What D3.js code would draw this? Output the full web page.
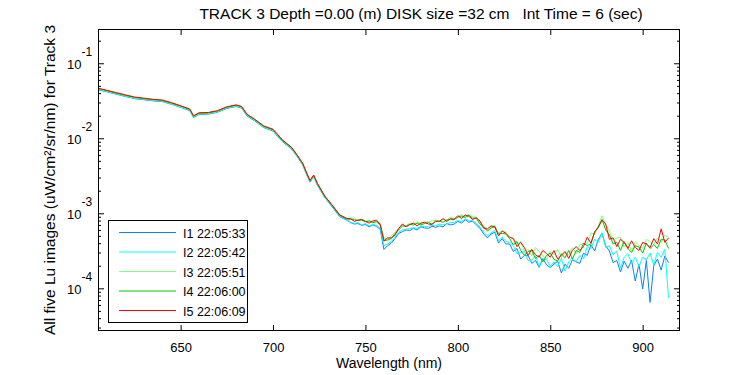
<!DOCTYPE html>
<html>
<head>
<meta charset="utf-8">
<script src="https://cdn.jsdelivr.net/npm/d3@7"></script>
<style>
body { margin: 0; background: #fff; }
svg text { font-family: "Liberation Sans", Arial, Helvetica, sans-serif; fill: #000; }
.tick line { stroke: #000; }
</style>
</head>
<body>
<svg class="lu-chart"></svg>
<script>
// wavelength grid (nm)
const wavelength = [
	605,610,615,620,625,630,635,640,645,650,
	655,657,660,665,670,675,680,683,686,690,
	695,700,705,710,713,716,718,720,722,724,
	728,732,736,740,
	742,744,746,748,750,752,754,756,758,760,
	762,764,766,768,770,772,774,776,778,780,
	782,784,786,788,790,792,794,796,798,800,
	802,804,806,808,810,812,814,816,818,820,
	822,824,826,828,830,832,834,836,838,840,
	842,844,846,848,850,852,854,856,858,860,
	862,864,866,868,870,872,874,876,878,880,
	882,884,886,888,890,892,894,896,898,900,
	902,904,906,908,910,912,914
];

// I1 22:05:33
const lu1 = [
	4.46e-2,4.18e-2,3.88e-2,3.62e-2,3.38e-2,3.27e-2,3.16e-2,3.09e-2,2.85e-2,2.59e-2,
	2.33e-2,1.89e-2,2.08e-2,2.10e-2,2.23e-2,2.50e-2,2.66e-2,2.53e-2,1.98e-2,1.71e-2,
	1.39e-2,1.25e-2,9.07e-3,7.21e-3,5.73e-3,4.45e-3,3.37e-3,2.61e-3,3.08e-3,2.38e-3,
	1.62e-3,1.22e-3,9.07e-4,8.08e-4,
	7.5e-4,7.2e-4,7.3e-4,6.9e-4,7.1e-4,6.6e-4,7.0e-4,6.7e-4,6.1e-4,3.3e-4,
	3.7e-4,4.0e-4,4.6e-4,5.4e-4,5.7e-4,6.0e-4,5.9e-4,6.3e-4,6.0e-4,6.6e-4,
	6.4e-4,6.3e-4,6.7e-4,6.5e-4,6.8e-4,6.6e-4,7.3e-4,7.0e-4,7.2e-4,7.8e-4,
	7.4e-4,8.2e-4,7.6e-4,7.9e-4,7.0e-4,6.3e-4,5.3e-4,4.7e-4,5.3e-4,5.6e-4,
	4.0e-4,4.6e-4,3.9e-4,3.9e-4,3.1e-4,3.4e-4,2.45e-4,2.75e-4,2.75e-4,2.15e-4,
	2.35e-4,1.9e-4,2.5e-4,2.05e-4,1.9e-4,2.1e-4,2.3e-4,1.6e-4,2.1e-4,1.85e-4,
	2.4e-4,2.25e-4,2.15e-4,2.95e-4,2.75e-4,3.8e-4,3.15e-4,4.5e-4,5.4e-4,3.7e-4,
	3.15e-4,2.2e-4,2.35e-4,1.65e-4,2.3e-4,1.85e-4,2.35e-4,1.25e-4,2.1e-4,9.8e-5,
	2.35e-4,6.5e-5,2.0e-4,2.45e-4,1.75e-4,2.7e-4,2.2e-4
];

// I2 22:05:42
const lu2 = [
	4.50e-2,4.22e-2,3.90e-2,3.64e-2,3.41e-2,3.30e-2,3.18e-2,3.11e-2,2.87e-2,2.61e-2,
	2.35e-2,1.91e-2,2.10e-2,2.12e-2,2.25e-2,2.53e-2,2.68e-2,2.55e-2,2.00e-2,1.73e-2,
	1.40e-2,1.27e-2,9.17e-3,7.29e-3,5.79e-3,4.49e-3,3.41e-3,2.64e-3,3.11e-3,2.41e-3,
	1.63e-3,1.24e-3,9.17e-4,8.17e-4,
	7.6e-4,7.3e-4,7.5e-4,7.0e-4,7.3e-4,6.8e-4,7.1e-4,6.9e-4,6.3e-4,3.7e-4,
	3.9e-4,4.2e-4,4.8e-4,5.6e-4,6.0e-4,6.1e-4,6.3e-4,6.4e-4,6.3e-4,6.8e-4,
	6.6e-4,6.7e-4,6.9e-4,6.8e-4,7.2e-4,7.0e-4,7.3e-4,7.5e-4,7.6e-4,8.0e-4,
	7.7e-4,8.4e-4,7.9e-4,8.1e-4,7.3e-4,6.6e-4,5.6e-4,5.0e-4,5.5e-4,5.9e-4,
	4.3e-4,4.8e-4,4.2e-4,4.1e-4,3.7e-4,2.9e-4,3.0e-4,3.15e-4,2.35e-4,2.35e-4,
	2.7e-4,1.95e-4,2.4e-4,2.45e-4,1.95e-4,2.25e-4,1.95e-4,2.5e-4,1.7e-4,2.25e-4,
	2.55e-4,2.25e-4,2.75e-4,2.45e-4,3.6e-4,3.4e-4,4.5e-4,4.1e-4,5.5e-4,3.5e-4,
	3.7e-4,2.8e-4,3.15e-4,1.85e-4,2.6e-4,2.9e-4,2.15e-4,2.6e-4,1.95e-4,2.6e-4,
	2.4e-4,2.95e-4,2.05e-4,3.0e-4,2.6e-4,3.3e-4,7.5e-5
];

// I3 22:05:51
const lu3 = [
	4.58e-2,4.30e-2,3.99e-2,3.72e-2,3.48e-2,3.36e-2,3.25e-2,3.17e-2,2.93e-2,2.67e-2,
	2.40e-2,1.96e-2,2.14e-2,2.17e-2,2.29e-2,2.58e-2,2.73e-2,2.61e-2,2.05e-2,1.76e-2,
	1.43e-2,1.29e-2,9.36e-3,7.44e-3,5.91e-3,4.59e-3,3.48e-3,2.70e-3,3.18e-3,2.46e-3,
	1.67e-3,1.28e-3,9.60e-4,8.60e-4,
	8.7e-4,8.4e-4,8.2e-4,8.3e-4,7.9e-4,8.1e-4,7.7e-4,7.8e-4,7.3e-4,4.7e-4,
	4.5e-4,5.0e-4,5.6e-4,6.4e-4,7.0e-4,6.9e-4,7.4e-4,7.2e-4,7.7e-4,7.3e-4,
	7.6e-4,7.8e-4,7.9e-4,8.1e-4,7.8e-4,8.3e-4,8.2e-4,8.9e-4,8.5e-4,9.0e-4,
	9.6e-4,9.0e-4,9.7e-4,9.0e-4,8.9e-4,7.5e-4,6.9e-4,6.0e-4,6.6e-4,6.9e-4,
	5.4e-4,5.9e-4,5.6e-4,4.8e-4,4.7e-4,3.9e-4,4.2e-4,3.15e-4,3.3e-4,2.7e-4,
	3.5e-4,3.1e-4,2.7e-4,2.4e-4,3.1e-4,2.8e-4,3.3e-4,2.55e-4,3.0e-4,2.75e-4,
	3.5e-4,2.9e-4,3.8e-4,4.0e-4,3.9e-4,5.5e-4,5.2e-4,6.8e-4,9.3e-4,7.0e-4,
	5.8e-4,4.4e-4,4.7e-4,4.8e-4,3.55e-4,4.1e-4,3.15e-4,4.2e-4,3.7e-4,3.4e-4,
	4.5e-4,4.2e-4,3.8e-4,4.7e-4,4.1e-4,5.1e-4,4.7e-4
];

// I4 22:06:00
const lu4 = [
	4.62e-2,4.33e-2,4.02e-2,3.74e-2,3.52e-2,3.38e-2,3.28e-2,3.19e-2,2.95e-2,2.69e-2,
	2.42e-2,1.97e-2,2.16e-2,2.18e-2,2.31e-2,2.60e-2,2.76e-2,2.63e-2,2.06e-2,1.78e-2,
	1.44e-2,1.30e-2,9.43e-3,7.50e-3,5.96e-3,4.62e-3,3.51e-3,2.72e-3,3.20e-3,2.48e-3,
	1.68e-3,1.27e-3,9.43e-4,8.40e-4,
	8.3e-4,8.2e-4,8.0e-4,8.1e-4,7.7e-4,7.9e-4,7.5e-4,7.7e-4,7.0e-4,4.3e-4,
	4.4e-4,4.6e-4,5.4e-4,6.0e-4,6.8e-4,6.7e-4,7.1e-4,7.0e-4,7.4e-4,7.0e-4,
	7.3e-4,7.5e-4,7.2e-4,7.7e-4,7.9e-4,7.6e-4,8.1e-4,8.3e-4,8.2e-4,8.9e-4,
	9.2e-4,8.8e-4,9.4e-4,8.6e-4,8.6e-4,7.2e-4,6.6e-4,5.8e-4,6.4e-4,6.6e-4,
	5.3e-4,5.4e-4,5.3e-4,4.6e-4,3.8e-4,4.2e-4,3.2e-4,2.75e-4,3.1e-4,3.2e-4,
	2.5e-4,2.75e-4,2.25e-4,2.75e-4,2.95e-4,2.45e-4,2.3e-4,2.9e-4,2.55e-4,3.2e-4,
	2.45e-4,3.2e-4,3.0e-4,4.0e-4,3.7e-4,3.9e-4,5.7e-4,6.4e-4,8.3e-4,6.0e-4,
	5.2e-4,3.9e-4,4.1e-4,3.2e-4,4.2e-4,3.4e-4,3.0e-4,3.7e-4,3.55e-4,2.95e-4,
	4.0e-4,3.4e-4,3.8e-4,3.4e-4,4.5e-4,4.4e-4,3.4e-4
];

// I5 22:06:09
const lu5 = [
	4.68e-2,4.37e-2,4.07e-2,3.80e-2,3.55e-2,3.43e-2,3.31e-2,3.24e-2,2.99e-2,2.72e-2,
	2.45e-2,2.00e-2,2.19e-2,2.21e-2,2.34e-2,2.63e-2,2.79e-2,2.66e-2,2.09e-2,1.80e-2,
	1.46e-2,1.32e-2,9.55e-3,7.59e-3,6.03e-3,4.68e-3,3.55e-3,2.75e-3,3.24e-3,2.51e-3,
	1.70e-3,1.29e-3,9.55e-4,8.51e-4,
	8.5e-4,7.8e-4,8.1e-4,8.3e-4,7.8e-4,7.4e-4,7.9e-4,8.1e-4,7.1e-4,4.3e-4,
	4.7e-4,4.7e-4,5.1e-4,6.3e-4,7.2e-4,6.6e-4,7.1e-4,7.4e-4,6.8e-4,7.4e-4,
	7.6e-4,7.2e-4,7.1e-4,7.9e-4,7.8e-4,8.5e-4,7.8e-4,8.5e-4,8.3e-4,9.3e-4,
	8.5e-4,9.5e-4,9.1e-4,8.3e-4,8.7e-4,7.9e-4,6.3e-4,6.2e-4,6.8e-4,6.6e-4,
	5.0e-4,5.8e-4,5.4e-4,4.8e-4,4.6e-4,3.6e-4,4.1e-4,3.5e-4,2.75e-4,3.3e-4,
	2.8e-4,2.6e-4,3.2e-4,2.9e-4,2.6e-4,3.2e-4,2.45e-4,2.75e-4,3.1e-4,2.5e-4,
	3.2e-4,3.6e-4,3.2e-4,3.6e-4,4.8e-4,4.0e-4,5.6e-4,6.6e-4,8.1e-4,7.2e-4,
	4.5e-4,4.7e-4,3.6e-4,4.5e-4,4.1e-4,3.4e-4,4.3e-4,3.5e-4,3.2e-4,4.1e-4,
	3.9e-4,3.5e-4,4.6e-4,3.9e-4,6.2e-4,4.1e-4,4.7e-4
];

const seriesNames = ["I1 22:05:33", "I2 22:05:42", "I3 22:05:51", "I4 22:06:00", "I5 22:06:09"];
const seriesColors = ["#0a7fff", "#00ffff", "#80ff80", "#00c800", "#ff0000"];
const xTicks = [650, 700, 750, 800, 850, 900];
const yTicks = [1e-4, 1e-3, 1e-2, 1e-1];
const yExponents = ["-4", "-3", "-2", "-1"];

const titleText = "TRACK 3 Depth =0.00 (m) DISK size =32 cm   Int Time = 6 (sec)";
const xLabelText = "Wavelength (nm)";
const yLabelText = "All five Lu images (uW/cm\u00B2/sr/nm) for Track 3";

let allSeries = [lu1, lu2, lu3, lu4, lu5];

// chart size parameters
let width = 750;
let height = 375;
let margin = { top: 29, right: 70, bottom: 44, left: 98 };
let plotW = width - margin.left - margin.right;
let plotH = height - margin.top - margin.bottom;

let svg = d3.select(".lu-chart")
	.attr("width", width)
	.attr("height", height);

let xScale = d3.scaleLinear()
	.domain([605.3, 920.2])
	.range([margin.left, margin.left + plotW]);

let yScale = d3.scaleLog()
	.domain([Math.pow(10, -4.569), Math.pow(10, -0.543)])
	.range([margin.top + plotH, margin.top]);

// minor log ticks (2..9 of each decade)
let minorTicks = yScale.ticks().filter(function(d) {
	return yTicks.indexOf(d) < 0;
});

svg.append("defs").append("clipPath")
	.attr("id", "plot-clip")
	.append("rect")
	.attr("x", margin.left)
	.attr("y", margin.top)
	.attr("width", plotW)
	.attr("height", plotH);

// data lines, I1 first so I5 sits on top
let line = d3.line()
	.x(function(d, i) { return xScale(wavelength[i]); })
	.y(function(d) { return yScale(d); });

let lines = svg.append("g").attr("clip-path", "url(#plot-clip)");
allSeries.forEach(function(s, k) {
	lines.append("path")
		.datum(s)
		.attr("fill", "none")
		.attr("stroke", seriesColors[k])
		.attr("stroke-width", 1)
		.attr("d", line);
});

// axes, ticks pointing inward
function noDomain(g) { g.select(".domain").remove(); }

let bottomY = margin.top + plotH;
let rightX = margin.left + plotW;

svg.append("g")
	.attr("class", "x-axis")
	.attr("transform", "translate(0," + bottomY + ")")
	.call(d3.axisBottom(xScale).tickValues(xTicks).tickSize(-6).tickFormat(d3.format("d")))
	.call(noDomain)
	.call(function(g) {
		g.selectAll("text").attr("y", 21).attr("dy", 0).style("font-size", "13px");
	});

svg.append("g")
	.attr("transform", "translate(0," + margin.top + ")")
	.call(d3.axisTop(xScale).tickValues(xTicks).tickSize(-6).tickFormat(""))
	.call(noDomain);

svg.append("g")
	.attr("class", "y-axis")
	.attr("transform", "translate(" + margin.left + ",0)")
	.call(d3.axisLeft(yScale).tickValues(yTicks).tickSize(-6).tickFormat(""))
	.call(noDomain)
	.call(function(g) {
		g.selectAll(".tick").each(function(d, i) {
			let t = d3.select(this).append("text")
				.attr("x", -31)
				.attr("y", 5)
				.attr("text-anchor", "start")
				.style("font-size", "13px");
			t.append("tspan").text("10");
			t.append("tspan").attr("dy", -13).style("font-size", "12px").text(yExponents[i]);
		});
	});

svg.append("g")
	.attr("transform", "translate(" + margin.left + ",0)")
	.call(d3.axisLeft(yScale).tickValues(minorTicks).tickSize(-3).tickFormat(""))
	.call(noDomain);

svg.append("g")
	.attr("transform", "translate(" + rightX + ",0)")
	.call(d3.axisRight(yScale).tickValues(yTicks).tickSize(-6).tickFormat(""))
	.call(noDomain);

svg.append("g")
	.attr("transform", "translate(" + rightX + ",0)")
	.call(d3.axisRight(yScale).tickValues(minorTicks).tickSize(-3).tickFormat(""))
	.call(noDomain);

// frame
svg.append("rect")
	.attr("x", margin.left + 0.5)
	.attr("y", margin.top + 0.5)
	.attr("width", plotW - 1)
	.attr("height", plotH - 1)
	.attr("fill", "none")
	.attr("stroke", "#000");

// title and axis labels
svg.append("text")
	.attr("x", 421)
	.attr("y", 19)
	.attr("text-anchor", "middle")
	.style("font-size", "15.5px")
	.style("white-space", "pre")
	.text(titleText);

svg.append("text")
	.attr("x", margin.left + plotW / 2)
	.attr("y", 368)
	.attr("text-anchor", "middle")
	.style("font-size", "14px")
	.text(xLabelText);

svg.append("text")
	.attr("transform", "translate(55," + (margin.top + plotH / 2) + ") rotate(-90)")
	.attr("text-anchor", "middle")
	.style("font-size", "15.5px")
	.text(yLabelText);

// legend
let legend = svg.append("g").attr("class", "legend");
legend.append("rect")
	.attr("x", 108.5)
	.attr("y", 220.5)
	.attr("width", 139)
	.attr("height", 102)
	.attr("fill", "#fff")
	.attr("stroke", "#000");

let rowY = d3.scaleLinear().domain([0, 4]).range([232.5, 310.5]);
seriesNames.forEach(function(name, k) {
	legend.append("line")
		.attr("x1", 119).attr("x2", 176)
		.attr("y1", rowY(k)).attr("y2", rowY(k))
		.attr("stroke", seriesColors[k]);
	legend.append("text")
		.attr("x", 183)
		.attr("y", rowY(k) + 5)
		.style("font-size", "12.5px")
		.text(name);
});
</script>
</body>
</html>
